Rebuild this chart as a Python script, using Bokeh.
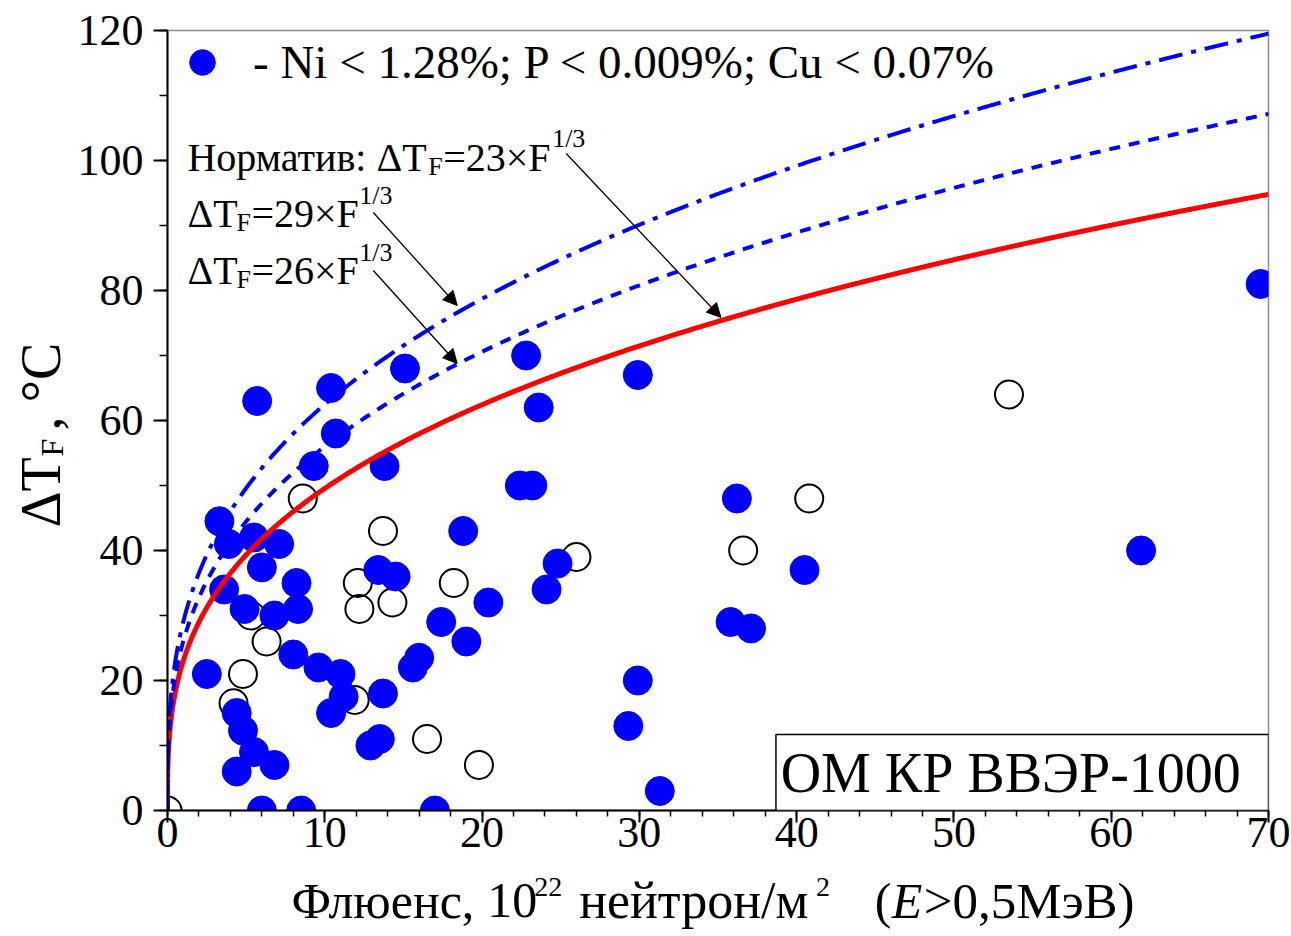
import numpy as np
from bokeh.plotting import figure
from bokeh.layouts import row, column
from bokeh.models import (Label, Arrow, NormalHead, BoxAnnotation, SingleIntervalTicker,
                          Legend, LegendItem, Range1d)
from bokeh.embed import file_html
from bokeh.resources import INLINE

# ---------------- data ----------------
filled_x = [69.5, 61.9, 40.5, 36.2, 35.8, 37.1, 29.9, 29.9, 29.3, 31.3,
            22.8, 23.6, 22.4, 23.2, 24.8, 24.1, 20.4, 18.8, 19.0, 17.4,
            15.6, 16.0, 17.0, 15.1, 13.8, 14.5, 13.4, 13.7, 12.9, 13.5,
            10.4, 10.7, 9.3, 9.6, 11.0, 11.2, 10.4, 8.5, 8.2, 8.3,
            8.0, 7.1, 6.8, 6.8, 6.0, 5.5, 5.7, 6.0, 5.5, 4.9,
            4.8, 4.4, 4.4, 3.9, 3.3, 3.6, 2.5]
filled_y = [81, 40, 37, 48, 29, 28, 67, 20, 13, 3,
            70, 62, 50, 50, 38, 34, 32, 43, 26, 29,
            22, 23.5, 0, 68, 53, 36, 37, 18, 10, 11,
            65, 58, 53, 22, 21, 17.5, 15, 0, 35, 31,
            24, 41, 30, 7, 37.4, 42, 63, 0, 9, 31,
            12.3, 15, 6, 41, 44.5, 34, 21]

open_x = [0, 8.6, 6.3, 5.3, 4.8, 4.2, 12.1, 12.2, 13.7, 14.3,
          11.9, 16.5, 19.8, 18.2, 26.0, 36.6, 40.8, 53.5]
open_y = [0, 48, 26, 30, 21, 16.5, 35, 31, 43, 32,
          17, 11, 7, 35, 39, 40, 48, 64]

coeffs = [23, 26, 29]          # ΔT_F = A × F^(1/3)
x_tick_step = 10
y_tick_step = 20
legend_text = "- Ni < 1.28%; P < 0.009%; Cu < 0.07%"
box_text = "ОМ КР ВВЭР-1000"

# ---------------- layout (page pixels) ----------------
W, H = 1291, 936
YW = 74            # width of the y-title strip
MH = 868           # height of the main figure
L, R, T, B = 166, 1268, 30, 810      # frame in page pixels
X0, X1, Y0, Y1 = 0, 70, 0, 120
FONT = "Liberation Serif"


def dx(px):
    return X0 + (px - L) * (X1 - X0) / (R - L)


def dy(py):
    return Y0 + (B - py) * (Y1 - Y0) / (B - T)


p = figure(width=W - YW, height=MH, x_range=Range1d(X0, X1), y_range=Range1d(Y0, Y1),
           output_backend="svg", toolbar_location=None,
           min_border_left=L - YW, min_border_right=W - R,
           min_border_top=T, min_border_bottom=MH - B)
p.background_fill_color = "white"
p.border_fill_color = "white"
p.outline_line_color = "#8c8c8c"
p.outline_line_width = 1.5
p.xgrid.visible = False
p.ygrid.visible = False

p.xaxis.ticker = SingleIntervalTicker(interval=x_tick_step, num_minor_ticks=5)
p.yaxis.ticker = SingleIntervalTicker(interval=y_tick_step, num_minor_ticks=2)
for ax in (p.xaxis[0], p.yaxis[0]):
    ax.axis_line_color = "black"
    ax.axis_line_width = 2
    ax.major_tick_line_color = "black"
    ax.major_tick_line_width = 2
    ax.minor_tick_line_color = "black"
    ax.minor_tick_line_width = 1.5
    ax.major_tick_in = 0
    ax.minor_tick_in = 0
    ax.major_label_text_font = FONT
    ax.major_label_text_font_size = "44px"
    ax.major_label_text_color = "black"
p.yaxis.major_tick_out = 14
p.yaxis.minor_tick_out = 8
p.yaxis.major_label_standoff = 10
p.xaxis.major_tick_out = 12
p.xaxis.minor_tick_out = 6
p.xaxis.major_label_standoff = -5

# ---------------- points ----------------
p.scatter(open_x, open_y, size=28, fill_alpha=0, line_color="black", line_width=2)
r_f = p.scatter(filled_x, filled_y, size=29, fill_color="#0000FF", line_color="#0000FF")

# ---------------- curves ----------------
F = np.concatenate([np.linspace(0, 1, 300), np.linspace(1, 70, 700)[1:]])
styles = {23: dict(color="#FF0000", line_width=5, line_dash="solid"),
          26: dict(color="#0000FF", line_width=4, line_dash="11 9"),
          29: dict(color="#0000FF", line_width=4, line_dash="24 9 5 9")}
for A in coeffs:
    p.line(F, A * F ** (1 / 3), **styles[A])

# ---------------- legend ----------------
leg = Legend(items=[LegendItem(label=legend_text, renderers=[r_f])],
             location="top_left", margin=0, padding=0,
             glyph_width=70, glyph_height=64, label_standoff=16,
             label_text_font=FONT, label_text_font_size="47px",
             label_text_color="black", label_height=64,
             background_fill_alpha=0, border_line_alpha=0)
p.add_layout(leg)


def lab(fig, conv_x, conv_y, px, py, text, size, angle=0.0, style="normal", align="left"):
    fig.add_layout(Label(x=conv_x(px), y=conv_y(py), text=text, text_font=FONT,
                         text_font_size=f"{size}px", text_font_style=style,
                         text_color="black", angle=angle, text_align=align,
                         text_baseline="middle"))


def plab(px, py, text, size, **kw):
    lab(p, dx, dy, px, py, text, size, **kw)


# ---------------- formula annotations ----------------
plab(186, 157, "Норматив: ΔT", 40)
plab(427, 166, "F", 26)
plab(442, 157, "=23×F", 40)
plab(551, 138, "1/3", 26)

plab(186, 213, "ΔT", 40)
plab(235, 222, "F", 26)
plab(250, 213, "=29×F", 40)
plab(358, 195, "1/3", 26)

plab(186, 270, "ΔT", 40)
plab(235, 279, "F", 26)
plab(250, 270, "=26×F", 40)
plab(358, 252, "1/3", 26)

head = dict(size=14, fill_color="black", line_color="black", line_width=1)
for (sx, sy, ex, ey) in [(565, 153, 720, 317), (372, 212, 456, 305), (372, 270, 456, 363)]:
    p.add_layout(Arrow(end=NormalHead(**head), x_start=dx(sx), y_start=dy(sy),
                       x_end=dx(ex), y_end=dy(ey), line_color="black", line_width=1.3))

# ---------------- box label ----------------
p.add_layout(BoxAnnotation(left=dx(775), right=dx(R), bottom=dy(B), top=dy(734),
                           fill_color="white", fill_alpha=1, line_color="black",
                           line_width=1.5, line_alpha=1))
plab(1010, 772, box_text, 56, align="center")

# ---------------- x title strip (frame aligned with the main frame) ----------------
XH = H - MH
xt = figure(width=W - YW, height=XH, x_range=Range1d(L, R), y_range=Range1d(H, MH),
            output_backend="svg", toolbar_location=None, x_axis_location=None,
            y_axis_location=None, min_border_left=L - YW, min_border_right=W - R,
            min_border_top=0, min_border_bottom=0, outline_line_color=None)
xt.xgrid.visible = False
xt.ygrid.visible = False
ident = lambda v: v


def xlab(px, py, text, size, **kw):
    lab(xt, ident, ident, px, py, text, size, **kw)


xlab(290, 900, "Флюенс,", 50)
xlab(486, 900, "10", 50)
xlab(533, 886, "22", 28)
xlab(578, 900, "нейтрон/м", 52)
xlab(815, 886, "2", 28)
xlab(874, 900, "(", 50)
xlab(891, 900, "E", 50, style="italic")
xlab(923, 900, ">0,5МэВ)", 51)

# ---------------- y title strip ----------------
yt = figure(width=YW, height=H, x_range=Range1d(0, YW), y_range=Range1d(H, 0),
            output_backend="svg", toolbar_location=None, x_axis_location=None,
            y_axis_location=None, min_border=0, outline_line_color=None)
yt.xgrid.visible = False
yt.ygrid.visible = False


def ylab(px, py, text, size, **kw):
    lab(yt, ident, ident, px, py, text, size, angle=np.pi / 2, **kw)


ylab(40, 527, "ΔT", 56)
ylab(51, 456, "F", 32)
ylab(40, 430, ", °C", 56)

layout = row(yt, column(p, xt, spacing=0), spacing=0)
open("out.html", "w").write(file_html(layout, INLINE))
